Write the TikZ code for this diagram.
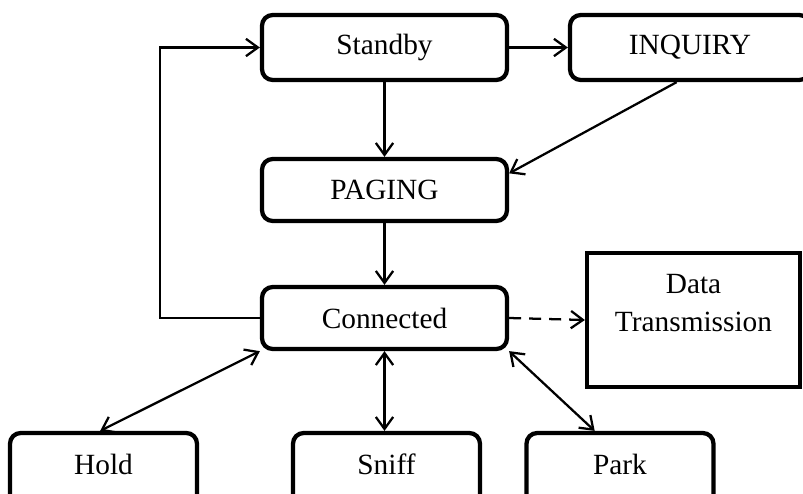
\documentclass[tikz,border=0pt]{standalone}
\usepackage{fontspec}
\setmainfont{Liberation Serif}
\usetikzlibrary{arrows.meta,calc}

\tikzset{
  state/.style={draw=black, line width=3.2pt, rounded corners=8pt,
    inner sep=0pt, align=center, font=\fontsize{22pt}{28.5pt}\selectfont},
  lowstate/.style={state, minimum width=140.25pt, minimum height=54pt, text depth=7pt},
  plainbox/.style={draw=black, line width=3.2pt, inner sep=0pt,
    align=center, font=\fontsize{22pt}{28.5pt}\selectfont},
  arr/.style={line width=1.7pt, -{Straight Barb[length=9pt,width=13pt,line width=1.7pt]}},
  biarr/.style={line width=1.7pt, {Straight Barb[length=9pt,width=13pt,line width=1.7pt]}-{Straight Barb[length=9pt,width=13pt,line width=1.7pt]}},
  dasharr/.style={arr, dash pattern=on 9pt off 6pt}
}

\begin{document}
\begin{tikzpicture}[x=0.75pt,y=-0.75pt]
  \useasboundingbox (0,0) rectangle (803,493);

  % states
  \node[state, minimum width=183.75pt, minimum height=48.75pt] (sb)    at (384.5,47.5) {Standby};
  \node[state, minimum width=180pt,    minimum height=48.75pt] (inq)   at (690,47.5)   {INQUIRY};
  \node[state, minimum width=183.75pt, minimum height=46.5pt]  (pag)   at (384.5,190)  {PAGING};
  \node[state, minimum width=183.75pt, minimum height=46.5pt]  (con)   at (384.5,318)  {Connected};
  \node[plainbox, minimum width=159.75pt, minimum height=100.5pt] (dt) at (693.5,320)  {Data\\Transmission\\[-12pt]\strut};
  \node[lowstate] (hold)  at (103.5,469) {Hold};
  \node[lowstate] (sniff) at (386.5,469) {Sniff};
  \node[lowstate] (park)  at (620,469)   {Park};

  % return path from Connected back to Standby
  \coordinate (lp) at (160,0);
  \draw[arr] (con.west) -- (con.west -| lp) |- (sb.west);

  % main transitions
  \draw[arr] (sb.east) -- (inq.west);
  \draw[arr] (sb.south) -- (pag.north);
  \draw[arr] ([xshift=-10pt]inq.south) -- ([yshift=12.5pt]pag.east);
  \draw[arr] (pag.south) -- (con.north);
  \draw[dasharr] (con.east) -- (dt.west);

  % low-power modes
  \draw[biarr] ([xshift=-2.5pt]hold.north) -- (con.south west);
  \draw[biarr] (con.south) -- (con.south |- sniff.north);
  \draw[biarr] ([xshift=-19pt]park.north) -- (con.south east);
\end{tikzpicture}
\end{document}
